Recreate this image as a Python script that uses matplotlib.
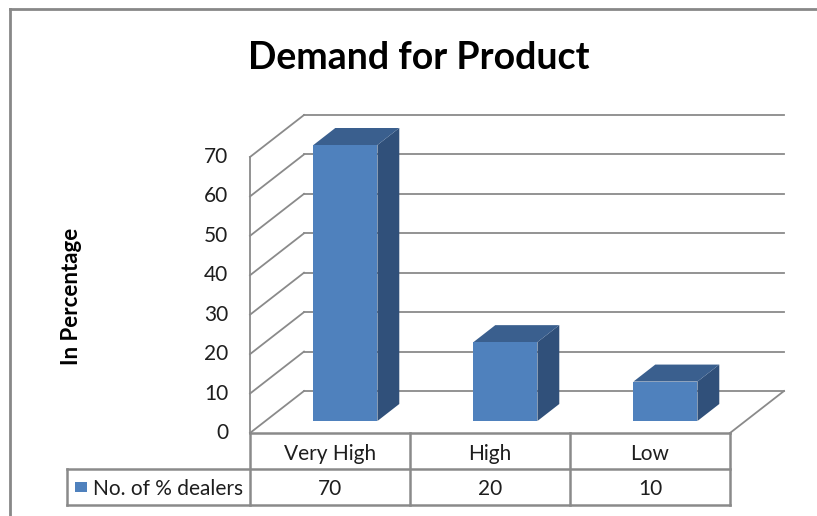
import numpy as np
import matplotlib
matplotlib.use("Agg")
import matplotlib.pyplot as plt
from matplotlib.patches import Polygon, Rectangle

# chart data
categories = ["Very High", "High", "Low"]
values = [70, 20, 10]
series_name = "No. of % dealers"
yticks = [0, 10, 20, 30, 40, 50, 60, 70]

plt.rcParams["font.family"] = ["Lato", "DejaVu Sans"]

W, H = 817, 516
fig = plt.figure(figsize=(W / 100, H / 100), dpi=100)

# plot area = front floor edge (x 250..730 px, y 433..157 px)
ax = fig.add_axes([250 / W, (H - 433) / H, 480 / W, 276 / H])
ax.set_xlim(0, 3)
ax.set_ylim(0, 70)
ax.axis("off")

# oblique depth offset in data units
DX = 54 / 160
DY = 42 / (276 / 70)
grid_c = "#8a8a8a"
lw = 1.3
txt_c = "#1e1e1e"

# back wall gridlines and left wall diagonals
for v in yticks:
    ax.plot([DX, 3 + DX], [v + DY, v + DY], color=grid_c, lw=lw, clip_on=False)
    ax.plot([0, DX], [v, v + DY], color=grid_c, lw=lw, clip_on=False)
    ax.text(-0.135, v, str(v), ha="right", va="center", fontsize=15, color=txt_c)
ax.plot([0, 0], [0, 70], color=grid_c, lw=lw, clip_on=False)
# floor right edge
ax.plot([3, 3 + DX], [0, DY], color=grid_c, lw=lw, clip_on=False)

# bars
bw = 0.4
f0, f1 = 12 / 42, 29 / 42
front_c, side_c, top_c = "#4f81bd", "#30507a", "#3a5f8e"
for i, v in enumerate(values):
    x0 = i + 0.5 - bw / 2 + f0 * DX
    x1 = x0 + bw
    y0 = f0 * DY
    y1 = v + f0 * DY
    ddx, ddy = (f1 - f0) * DX, (f1 - f0) * DY
    ax.add_patch(Polygon([[x1, y0], [x1 + ddx, y0 + ddy], [x1 + ddx, y1 + ddy], [x1, y1]],
                         closed=True, fc=side_c, ec="none", clip_on=False, zorder=3))
    ax.add_patch(Polygon([[x0, y1], [x1, y1], [x1 + ddx, y1 + ddy], [x0 + ddx, y1 + ddy]],
                         closed=True, fc=top_c, ec="none", clip_on=False, zorder=3))
    ax.add_patch(Rectangle((x0, y0), bw, v, fc=front_c, ec="none", clip_on=False, zorder=4))

# data table below the floor
rh = 36 / (276 / 70)
leg_x = (67 - 250) / 160
tab_c = "#8a8a8a"
tlw = 1.8
ax.plot([0, 3], [0, 0], color=tab_c, lw=tlw, clip_on=False)
ax.plot([leg_x, 3], [-rh, -rh], color=tab_c, lw=tlw, clip_on=False)
ax.plot([leg_x, 3], [-2 * rh, -2 * rh], color=tab_c, lw=tlw, clip_on=False)
ax.plot([leg_x, leg_x], [-rh, -2 * rh], color=tab_c, lw=tlw, clip_on=False)
for i in range(4):
    ax.plot([i, i], [0, -2 * rh], color=tab_c, lw=tlw, clip_on=False)
for i, (c, v) in enumerate(zip(categories, values)):
    ax.text(i + 0.5, -rh / 2 - 0.8, c, ha="center", va="center", fontsize=15, color=txt_c)
    ax.text(i + 0.5, -1.5 * rh - 0.5, str(v), ha="center", va="center", fontsize=15, color=txt_c)
ax.add_patch(Rectangle((leg_x + 8 / 160, -1.5 * rh - 5.5 / 3.943), 12 / 160, 11 / 3.943,
                       fc=front_c, ec="none", clip_on=False))
ax.text(leg_x + 26 / 160, -1.5 * rh - 0.5, series_name, ha="left", va="center",
        fontsize=15, color=txt_c)

# titles
fig.text(419 / W, 1 - 58 / H, "Demand for Product", ha="center", va="center",
         fontsize=27, fontweight="bold")
fig.text(71 / W, 1 - 296 / H, "In Percentage", ha="center", va="center",
         rotation=90, fontsize=16, fontweight="bold")

# outer chart border
fig.add_artist(plt.Line2D([10 / W, 10 / W], [0, 1 - 9 / H], color="#888888", lw=2))
fig.add_artist(plt.Line2D([10 / W, 1], [1 - 9 / H, 1 - 9 / H], color="#888888", lw=2))

fig.savefig("out.png", dpi=100)
